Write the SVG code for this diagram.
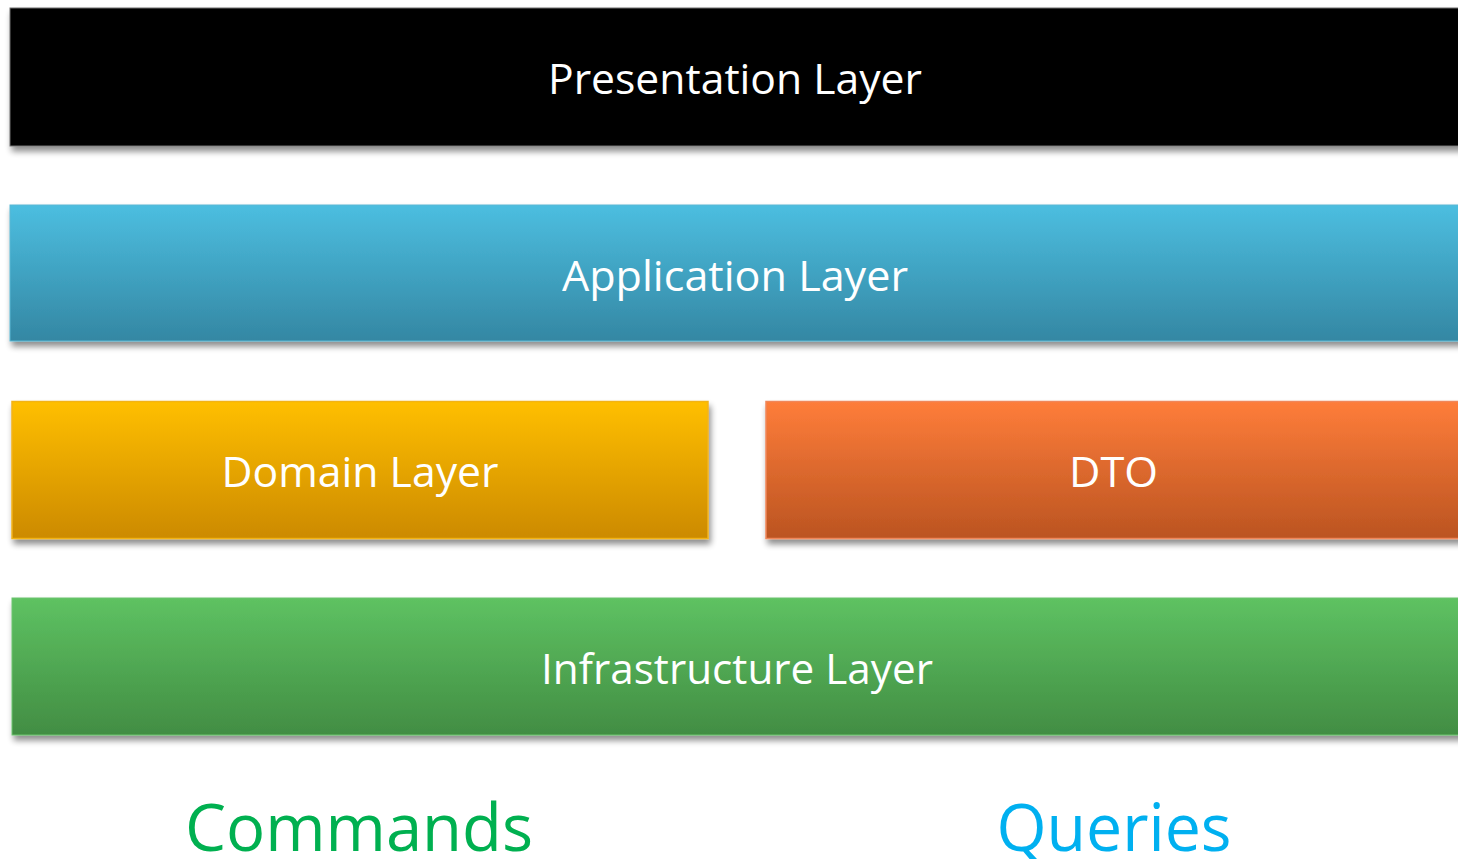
<svg xmlns="http://www.w3.org/2000/svg" width="1458" height="859" viewBox="0 0 1458 859">
  <defs>
    <linearGradient id="gApp" x1="0" y1="0" x2="0" y2="1">
      <stop offset="0" stop-color="#4cbee0"/>
      <stop offset="1" stop-color="#3487a3"/>
    </linearGradient>
    <linearGradient id="gDomain" x1="0" y1="0" x2="0" y2="1">
      <stop offset="0" stop-color="#ffbf00"/>
      <stop offset="1" stop-color="#cc8a00"/>
    </linearGradient>
    <linearGradient id="gDto" x1="0" y1="0" x2="0" y2="1">
      <stop offset="0" stop-color="#fe7d3a"/>
      <stop offset="1" stop-color="#bb5421"/>
    </linearGradient>
    <linearGradient id="gInfra" x1="0" y1="0" x2="0" y2="1">
      <stop offset="0" stop-color="#5ec262"/>
      <stop offset="1" stop-color="#428d43"/>
    </linearGradient>
    <filter id="shadow" x="-5%" y="-20%" width="110%" height="150%">
      <feGaussianBlur in="SourceAlpha" stdDeviation="3"/>
      <feOffset dx="2" dy="5" result="b"/>
      <feComponentTransfer><feFuncA type="linear" slope="0.45"/></feComponentTransfer>
      <feMerge><feMergeNode/><feMergeNode in="SourceGraphic"/></feMerge>
    </filter>
  </defs>
  <style>
    .lbl { font-family: "Open Sans", "Noto Sans", sans-serif; font-size: 42px; fill: #ffffff; text-anchor: middle; }
    .big { font-family: "Open Sans", "Noto Sans", sans-serif; font-size: 65px; text-anchor: middle; }
  </style>
  <rect width="1458" height="859" fill="#ffffff"/>

  <g id="presentation">
    <rect x="10" y="8" width="1460" height="138" fill="#000000" stroke="#6e6e6e" stroke-width="1" filter="url(#shadow)"/>
    <text class="lbl" x="735" y="94" textLength="374" lengthAdjust="spacingAndGlyphs">Presentation Layer</text>
  </g>

  <g id="application">
    <rect x="10" y="205" width="1460" height="136" fill="url(#gApp)" stroke="#5bb7d3" stroke-width="1" filter="url(#shadow)"/>
    <text class="lbl" x="735" y="291" textLength="346" lengthAdjust="spacingAndGlyphs">Application Layer</text>
  </g>

  <g id="domain">
    <rect x="12" y="401.5" width="696" height="137" fill="url(#gDomain)" stroke="#f2b319" stroke-width="1.5" filter="url(#shadow)"/>
    <text class="lbl" x="360" y="487" textLength="277" lengthAdjust="spacingAndGlyphs">Domain Layer</text>
  </g>

  <g id="dto">
    <rect x="766" y="401.5" width="704" height="137" fill="url(#gDto)" stroke="#f0875a" stroke-width="1.5" filter="url(#shadow)"/>
    <text class="lbl" x="1113.5" y="487" textLength="89" lengthAdjust="spacingAndGlyphs">DTO</text>
  </g>

  <g id="infrastructure">
    <rect x="12" y="598" width="1458" height="137" fill="url(#gInfra)" stroke="#6cc46f" stroke-width="1" filter="url(#shadow)"/>
    <text class="lbl" x="737" y="684" textLength="392" lengthAdjust="spacingAndGlyphs">Infrastructure Layer</text>
  </g>

  <g id="commands">
    <text class="big" x="359" y="851" fill="#00b050" textLength="348" lengthAdjust="spacingAndGlyphs">Commands</text>
  </g>

  <g id="queries">
    <text class="big" x="1114" y="851" fill="#00b0f0" textLength="235" lengthAdjust="spacingAndGlyphs">Queries</text>
  </g>

  <g id="connectors"/>
</svg>
